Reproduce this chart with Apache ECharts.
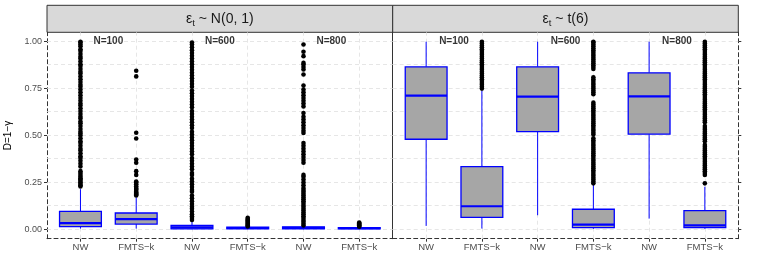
<!DOCTYPE html>
<html><head><meta charset="utf-8">
<script src="https://cdn.jsdelivr.net/npm/echarts@6/dist/echarts.min.js"></script>
<style>html,body{margin:0;padding:0;background:#fff}#c{width:761px;height:273px}</style>
</head><body><div id="c"></div><script>
const categories = ['NW', 'FMTS−k', 'NW', 'FMTS−k', 'NW', 'FMTS−k'];
const sampleSizes = ['N=100', 'N=600', 'N=800'];
const sampleSizePos = [0.5, 2.5, 4.5];
const panelDistributions = ['N(0, 1)', 't(6)'];
const yTicks = [0, 0.25, 0.5, 0.75, 1];
const yMinorTicks = [0.125, 0.375, 0.625, 0.875];
const yAxisTitle = 'D=1−γ';

// [lower whisker, Q1, median, Q3, upper whisker]
const normalStats = [
  [0.004, 0.0145, 0.033, 0.096, 0.214],
  [0.004, 0.028, 0.054, 0.087, 0.17],
  [0.0, 0.002, 0.010, 0.021, 0.046],
  [0.0, 0.003, 0.007, 0.011, 0.013],
  [0.0, 0.002, 0.008, 0.013, 0.019],
  [0.0, 0.002, 0.006, 0.009, 0.012]
];
const tStats = [
  [0.018, 0.48, 0.712, 0.866, 1.0],
  [0.004, 0.064, 0.123, 0.334, 0.739],
  [0.075, 0.521, 0.707, 0.866, 1.0],
  [0.003, 0.009, 0.025, 0.107, 0.236],
  [0.057, 0.507, 0.709, 0.834, 1.0],
  [0.003, 0.009, 0.021, 0.100, 0.227]
];

const normalOutliers = [
  [0.228, 0.235, 0.242, 0.25, 0.258, 0.265, 0.272, 0.28, 0.29, 0.30, 0.31, 0.335, 0.35, 0.365, 0.38, 0.39, 0.405, 0.42, 0.43, 0.445, 0.46, 0.47, 0.485, 0.5, 0.51, 0.52, 0.535, 0.55, 0.565, 0.575, 0.59, 0.60, 0.615, 0.63, 0.645, 0.66, 0.67, 0.685, 0.70, 0.715, 0.73, 0.745, 0.76, 0.77, 0.785, 0.80, 0.815, 0.83, 0.84, 0.855, 0.87, 0.88, 0.895, 0.91, 0.92, 0.935, 0.95, 0.96, 0.975, 0.985, 0.995, 1.0],
  [0.18, 0.185, 0.19, 0.195, 0.2, 0.21, 0.215, 0.22, 0.23, 0.24, 0.25, 0.255, 0.29, 0.31, 0.355, 0.372, 0.484, 0.515, 0.815, 0.845],
  [0.05, 0.06, 0.07, 0.08, 0.095, 0.11, 0.12, 0.135, 0.15, 0.165, 0.18, 0.2, 0.21, 0.225, 0.24, 0.255, 0.27, 0.29, 0.3, 0.32, 0.335, 0.35, 0.365, 0.38, 0.4, 0.415, 0.43, 0.445, 0.46, 0.475, 0.49, 0.505, 0.52, 0.54, 0.555, 0.57, 0.585, 0.6, 0.615, 0.63, 0.65, 0.665, 0.68, 0.695, 0.71, 0.725, 0.74, 0.76, 0.775, 0.79, 0.805, 0.82, 0.835, 0.85, 0.865, 0.88, 0.895, 0.91, 0.925, 0.94, 0.955, 0.97, 0.985, 0.995],
  [0.015, 0.02, 0.025, 0.03, 0.035, 0.04, 0.045, 0.05, 0.055, 0.062],
  [0.02, 0.03, 0.04, 0.05, 0.06, 0.07, 0.08, 0.09, 0.1, 0.11, 0.12, 0.13, 0.14, 0.15, 0.16, 0.17, 0.18, 0.19, 0.2, 0.21, 0.22, 0.235, 0.25, 0.265, 0.28, 0.29, 0.355, 0.37, 0.385, 0.4, 0.415, 0.43, 0.445, 0.46, 0.513, 0.525, 0.54, 0.555, 0.57, 0.585, 0.6, 0.62, 0.655, 0.67, 0.685, 0.7, 0.715, 0.73, 0.745, 0.766, 0.825, 0.852, 0.865, 0.878, 0.887, 0.923, 0.946, 0.985],
  [0.014, 0.018, 0.022, 0.027, 0.032, 0.036]
];
const tOutliers = [
  [],
  [0.75, 0.76, 0.77, 0.78, 0.79, 0.8, 0.81, 0.82, 0.83, 0.84, 0.85, 0.86, 0.87, 0.88, 0.89, 0.9, 0.91, 0.92, 0.93, 0.94, 0.95, 0.96, 0.97, 0.98, 0.99, 1.0],
  [],
  [0.245, 0.255, 0.265, 0.275, 0.285, 0.295, 0.305, 0.315, 0.325, 0.335, 0.345, 0.355, 0.365, 0.375, 0.385, 0.395, 0.405, 0.415, 0.425, 0.435, 0.445, 0.455, 0.465, 0.475, 0.485, 0.505, 0.515, 0.525, 0.535, 0.545, 0.555, 0.565, 0.575, 0.585, 0.595, 0.605, 0.615, 0.625, 0.635, 0.645, 0.655, 0.665, 0.675, 0.72, 0.73, 0.74, 0.75, 0.76, 0.77, 0.78, 0.79, 0.8, 0.81, 0.855, 0.865, 0.875, 0.885, 0.895, 0.905, 0.915, 0.925, 0.935, 0.945, 0.955, 0.965, 0.975, 0.985, 0.995, 1.0],
  [],
  [0.245, 0.29, 0.3, 0.31, 0.32, 0.33, 0.34, 0.35, 0.36, 0.37, 0.38, 0.39, 0.4, 0.41, 0.42, 0.43, 0.44, 0.45, 0.47, 0.48, 0.49, 0.5, 0.51, 0.52, 0.53, 0.54, 0.55, 0.57, 0.58, 0.59, 0.6, 0.61, 0.62, 0.63, 0.64, 0.65, 0.66, 0.67, 0.68, 0.69, 0.7, 0.71, 0.72, 0.73, 0.74, 0.75, 0.76, 0.77, 0.78, 0.79, 0.8, 0.81, 0.82, 0.83, 0.84, 0.85, 0.86, 0.87, 0.88, 0.89, 0.9, 0.91, 0.92, 0.93, 0.94, 0.95, 0.96, 0.97, 0.98, 0.99, 1.0]
];

const FONT = "'Liberation Sans', Arial, Helvetica, sans-serif";
const BLUE = '#0000FF';
const BOX_FILL = '#A6A6A6';
const GRID_COL = '#E0E0E0';
const BORDER = '#333333';
const PANELS = [
  { left: 47, width: 345.7 },
  { left: 392.7, width: 345.6 }
];
const PTOP = 32.3, PHEIGHT = 206.4, STRIP_TOP = 5.3, STRIP_H = 27;
const catIdx = categories.map((c, i) => i);

function renderBox(params, api) {
  const x = api.value(0);
  const pLo = api.coord([x, api.value(1)]);
  const pQ1 = api.coord([x, api.value(2)]);
  const pMed = api.coord([x, api.value(3)]);
  const pQ3 = api.coord([x, api.value(4)]);
  const pHi = api.coord([x, api.value(5)]);
  const half = api.size([0.75, 0])[0] / 2;
  return {
    type: 'group',
    children: [
      { type: 'line', shape: { x1: pQ3[0], y1: pQ3[1], x2: pHi[0], y2: pHi[1] }, style: { stroke: BLUE, lineWidth: 1 } },
      { type: 'line', shape: { x1: pLo[0], y1: pLo[1], x2: pQ1[0], y2: pQ1[1] }, style: { stroke: BLUE, lineWidth: 1 } },
      { type: 'rect', shape: { x: pQ1[0] - half, y: pQ3[1], width: 2 * half, height: pQ1[1] - pQ3[1] }, style: { fill: BOX_FILL, stroke: BLUE, lineWidth: 1.3 } },
      { type: 'line', shape: { x1: pMed[0] - half, y1: pMed[1], x2: pMed[0] + half, y2: pMed[1] }, style: { stroke: BLUE, lineWidth: 2.2 } }
    ]
  };
}

const grids = PANELS.map(p => ({ left: p.left, top: PTOP, width: p.width, height: PHEIGHT, containLabel: false }));

const xAxes = PANELS.map((p, i) => ({
  gridIndex: i, type: 'value', min: -0.6, max: 5.6,
  axisLine: { show: true, onZero: false, lineStyle: { color: BORDER, width: 1, type: [4, 3] } },
  axisTick: { show: true, customValues: catIdx, length: 3, lineStyle: { color: BORDER } },
  axisLabel: { show: true, customValues: catIdx, formatter: v => categories[Math.round(v)], color: '#4D4D4D', fontSize: 9.5, margin: 4, fontFamily: FONT },
  splitLine: { show: false }
}));

const yAxes = [
  {
    gridIndex: 0, type: 'value', min: -0.05, max: 1.05,
    axisLine: { show: true, onZero: false, lineStyle: { color: BORDER, width: 1, type: [4, 3] } },
    axisTick: { show: true, customValues: yTicks, length: 3, lineStyle: { color: BORDER } },
    axisLabel: { show: true, customValues: yTicks, formatter: v => v.toFixed(2), color: '#4D4D4D', fontSize: 9, margin: 5, fontFamily: FONT },
    splitLine: { show: false },
    name: yAxisTitle, nameLocation: 'middle', nameGap: 34, nameRotate: 90,
    nameTextStyle: { color: '#000', fontSize: 10, fontFamily: FONT }
  },
  {
    gridIndex: 1, type: 'value', min: -0.05, max: 1.05, position: 'left',
    axisLine: { show: true, onZero: false, lineStyle: { color: BORDER, width: 1 } },
    axisTick: { show: false }, axisLabel: { show: false }, splitLine: { show: false }
  },
  {
    gridIndex: 1, type: 'value', min: -0.05, max: 1.05, position: 'right',
    axisLine: { show: true, onZero: false, lineStyle: { color: BORDER, width: 1, type: [4, 3] } },
    axisTick: { show: true, customValues: yTicks, length: 3, lineStyle: { color: BORDER } },
    axisLabel: { show: false }, splitLine: { show: false }
  }
];

const panelData = [
  { stats: normalStats, outliers: normalOutliers, yIdx: 0 },
  { stats: tStats, outliers: tOutliers, yIdx: 1 }
];

const series = [];
panelData.forEach((pd, p) => {
  const gridLines = [];
  catIdx.forEach(i => gridLines.push({ xAxis: i }));
  yTicks.forEach(v => gridLines.push({ yAxis: v }));
  yMinorTicks.forEach(v => gridLines.push({ yAxis: v }));
  series.push({
    type: 'scatter', xAxisIndex: p, yAxisIndex: pd.yIdx, data: [], z: 1, silent: true,
    markLine: {
      z: 1, zlevel: 0,
      silent: true, symbol: ['none', 'none'], animation: false,
      label: { show: false },
      lineStyle: { color: GRID_COL, width: 0.8, type: [4, 3] },
      data: gridLines
    }
  });
  series.push({
    type: 'custom', xAxisIndex: p, yAxisIndex: pd.yIdx, z: 3, silent: true,
    renderItem: renderBox,
    encode: { x: 0, y: [1, 2, 3, 4, 5] },
    data: pd.stats.map((s, i) => [i].concat(s))
  });
  const pts = [];
  pd.outliers.forEach((arr, i) => arr.forEach(v => pts.push([i, v])));
  series.push({
    type: 'scatter', xAxisIndex: p, yAxisIndex: pd.yIdx, z: 4, silent: true,
    symbol: 'circle', symbolSize: 4.6, itemStyle: { color: '#000', opacity: 1 },
    data: pts
  });
  series.push({
    type: 'scatter', xAxisIndex: p, yAxisIndex: pd.yIdx, z: 5, silent: true,
    symbolSize: 0,
    label: { show: true, position: 'inside', formatter: '{b}', color: '#000', fontSize: 10, fontWeight: 'bold', fontFamily: FONT },
    data: sampleSizes.map((n, k) => ({ name: n, value: [sampleSizePos[k], 1] }))
  });
});

const graphic = PANELS.map((p, i) => ({
  type: 'group',
  children: [
    { type: 'rect', shape: { x: p.left, y: STRIP_TOP, width: p.width, height: STRIP_H }, style: { fill: '#D9D9D9', stroke: BORDER, lineWidth: 1 } },
    {
      type: 'text', x: p.left + p.width / 2, y: STRIP_TOP + STRIP_H / 2 + 0.5,
      style: {
        text: '{e|ε}{s|t}{e| ~ ' + panelDistributions[i] + '}',
        align: 'center', verticalAlign: 'middle',
        rich: {
          e: { fontSize: 14, fontFamily: FONT, fill: '#1A1A1A', color: '#1A1A1A' },
          s: { fontSize: 9.5, fontFamily: FONT, fill: '#1A1A1A', color: '#1A1A1A', padding: [8, 0, 0, 0] }
        }
      }
    }
  ]
}));

const chart = echarts.init(document.getElementById('c'), null, { renderer: 'canvas' });
chart.setOption({
  animation: false,
  backgroundColor: '#fff',
  grid: grids,
  xAxis: xAxes,
  yAxis: yAxes,
  series: series,
  graphic: graphic
});
</script></body></html>
